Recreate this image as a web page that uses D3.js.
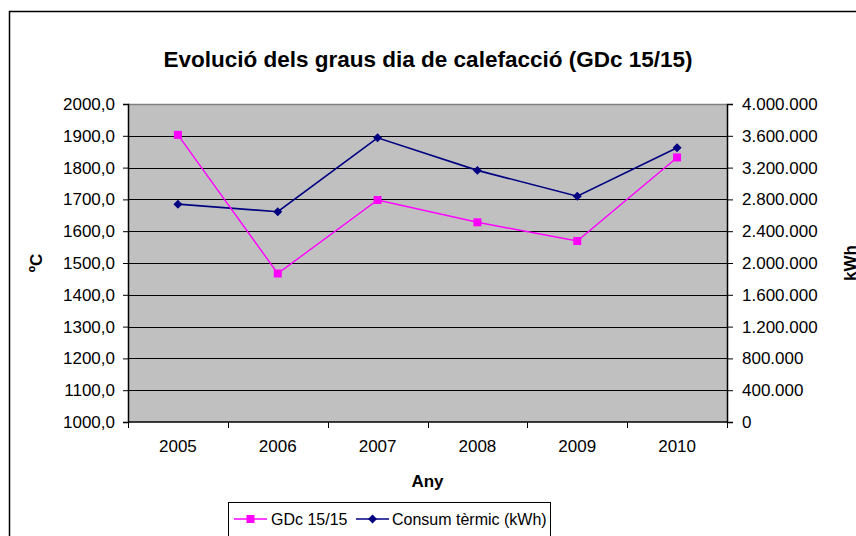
<!DOCTYPE html>
<html>
<head>
<meta charset="utf-8">
<title>Evolució dels graus dia de calefacció</title>
<style>
  body { margin: 0; background: #fff; }
  svg text { font-family: Arial, "Liberation Sans", sans-serif; fill: #000; }
</style>
</head>
<body>
<div id="chart"></div>
<script src="https://cdn.jsdelivr.net/npm/d3@7"></script>
<script>

// data
var years = ["2005", "2006", "2007", "2008", "2009", "2010"];
var gdc = [1903, 1467, 1698, 1628, 1569, 1832];
var consum = [2740000, 2645000, 3575000, 3165000, 2840000, 3450000];
var leftTicks = [1000, 1100, 1200, 1300, 1400, 1500, 1600, 1700, 1800, 1900, 2000];
var rightTicks = [0, 400000, 800000, 1200000, 1600000, 2000000, 2400000, 2800000, 3200000, 3600000, 4000000];

var width = 856, height = 536;
var plotL = 128, plotR = 727, plotT = 104, plotB = 422;

var svg = d3.select("#chart").append("svg")
    .attr("width", width)
    .attr("height", height);

// outer chart frame (cut off on the right and bottom)
svg.append("path")
    .attr("d", "M9.5," + (height + 5) + "V11.5H" + (width + 5))
    .attr("fill", "none")
    .attr("stroke", "#000")
    .attr("stroke-width", 1.5);

var x = d3.scaleBand().domain(years).range([plotL, plotR]);
var yl = d3.scaleLinear().domain([1000, 2000]).range([plotB, plotT]);
var yr = d3.scaleLinear().domain([0, 4000000]).range([plotB, plotT]);

var esLocale = d3.formatLocale({ decimal: ",", thousands: ".", grouping: [3], currency: ["", ""] });
var fmtLeft = esLocale.format(".1f");
var fmtRight = esLocale.format(",d");

// plot area
svg.append("rect")
    .attr("x", plotL).attr("y", plotT)
    .attr("width", plotR - plotL).attr("height", plotB - plotT)
    .attr("fill", "#c0c0c0");

svg.append("line")
    .attr("x1", plotL).attr("x2", plotR)
    .attr("y1", plotT + 0.5).attr("y2", plotT + 0.5)
    .attr("stroke", "#808080").attr("stroke-width", 1.5);

// gridlines
svg.append("g")
    .selectAll("line")
    .data(leftTicks.slice(1, -1))
    .enter().append("line")
    .attr("x1", plotL).attr("x2", plotR)
    .attr("y1", function(d) { return Math.round(yl(d)) + 0.5; })
    .attr("y2", function(d) { return Math.round(yl(d)) + 0.5; })
    .attr("stroke", "#000")
    .attr("stroke-width", 1.2);

// left axis
var gl = svg.append("g")
    .attr("transform", "translate(" + plotL + ",0)")
    .call(d3.axisLeft(yl).tickValues(leftTicks).tickSize(5).tickPadding(8).tickFormat(fmtLeft));

// right axis
var gr = svg.append("g")
    .attr("transform", "translate(" + plotR + ",0)")
    .call(d3.axisRight(yr).tickValues(rightTicks).tickSize(6).tickPadding(9).tickFormat(fmtRight));

[gl, gr].forEach(function(g) {
    g.select(".domain").attr("stroke", "#000").attr("stroke-width", 1.5);
    g.selectAll(".tick line").attr("stroke", "#000");
    g.selectAll(".tick text")
        .attr("font-size", 17)
        .attr("font-family", "Arial, 'Liberation Sans', sans-serif");
});

// bottom axis: labels centred in bands, ticks at band edges
var gx = svg.append("g")
    .attr("transform", "translate(0," + plotB + ")")
    .call(d3.axisBottom(x).tickSize(0).tickPadding(18));
gx.select(".domain").remove();
gx.selectAll(".tick text")
    .attr("font-size", 17)
    .attr("font-family", "Arial, 'Liberation Sans', sans-serif");

svg.append("line")
    .attr("x1", plotL).attr("x2", plotR)
    .attr("y1", plotB).attr("y2", plotB)
    .attr("stroke", "#000").attr("stroke-width", 1.5);

svg.append("g")
    .selectAll("line")
    .data(years.concat(["end"]))
    .enter().append("line")
    .attr("x1", function(d, i) { return Math.round(plotL + i * x.bandwidth()) + 0.5; })
    .attr("x2", function(d, i) { return Math.round(plotL + i * x.bandwidth()) + 0.5; })
    .attr("y1", plotB)
    .attr("y2", plotB + 6)
    .attr("stroke", "#000");

// series
function cx(d, i) { return x(years[i]) + x.bandwidth() / 2; }

var lineGdc = d3.line().x(cx).y(function(d) { return yl(d); });
var lineConsum = d3.line().x(cx).y(function(d) { return yr(d); });

svg.append("path")
    .datum(consum)
    .attr("d", lineConsum)
    .attr("fill", "none")
    .attr("stroke", "#000080")
    .attr("stroke-width", 1.6);

svg.append("path")
    .datum(gdc)
    .attr("d", lineGdc)
    .attr("fill", "none")
    .attr("stroke", "#ff00ff")
    .attr("stroke-width", 1.4);

var diamond = d3.symbol().type(d3.symbolSquare).size(40);

svg.append("g")
    .selectAll("path")
    .data(consum)
    .enter().append("path")
    .attr("d", diamond)
    .attr("transform", function(d, i) { return "translate(" + cx(d, i) + "," + yr(d) + ") rotate(45)"; })
    .attr("fill", "#000080");

svg.append("g")
    .selectAll("rect")
    .data(gdc)
    .enter().append("rect")
    .attr("x", function(d, i) { return cx(d, i) - 4; })
    .attr("y", function(d) { return yl(d) - 4; })
    .attr("width", 8)
    .attr("height", 8)
    .attr("fill", "#ff00ff");

// titles
svg.append("text")
    .attr("x", 428).attr("y", 67)
    .attr("text-anchor", "middle")
    .attr("font-size", 22.5)
    .attr("font-weight", "bold")
    .text("Evolució dels graus dia de calefacció (GDc 15/15)");

svg.append("text")
    .attr("x", (plotL + plotR) / 2).attr("y", 487)
    .attr("text-anchor", "middle")
    .attr("font-size", 17)
    .attr("font-weight", "bold")
    .text("Any");

svg.append("text")
    .attr("transform", "translate(42," + (plotT + plotB) / 2 + ") rotate(-90)")
    .attr("text-anchor", "middle")
    .attr("font-size", 17)
    .attr("font-weight", "bold")
    .text("ºC");

svg.append("text")
    .attr("transform", "translate(856," + (plotT + plotB) / 2 + ") rotate(-90)")
    .attr("text-anchor", "middle")
    .attr("font-size", 17)
    .attr("font-weight", "bold")
    .text("kWh");

// legend
var legend = svg.append("g");
legend.append("rect")
    .attr("x", 228.5).attr("y", 502.5)
    .attr("width", 322).attr("height", 34)
    .attr("fill", "#fff")
    .attr("stroke", "#000");

var items = [
    { name: "GDc 15/15", color: "#ff00ff", x0: 234, tx: 271, mark: "square" },
    { name: "Consum tèrmic (kWh)", color: "#000080", x0: 356, tx: 392, mark: "diamond" }
];

items.forEach(function(it) {
    legend.append("line")
        .attr("x1", it.x0).attr("x2", it.x0 + 33)
        .attr("y1", 519).attr("y2", 519)
        .attr("stroke", it.color).attr("stroke-width", 1.5);
    if (it.mark == "square") {
        legend.append("rect")
            .attr("x", it.x0 + 12.5).attr("y", 515)
            .attr("width", 8).attr("height", 8)
            .attr("fill", it.color);
    } else {
        legend.append("path")
            .attr("d", diamond)
            .attr("transform", "translate(" + (it.x0 + 16.5) + ",519) rotate(45)")
            .attr("fill", it.color);
    }
    legend.append("text")
        .attr("x", it.tx).attr("y", 525)
        .attr("font-size", 16)
        .text(it.name);
});

</script>
</body>
</html>
